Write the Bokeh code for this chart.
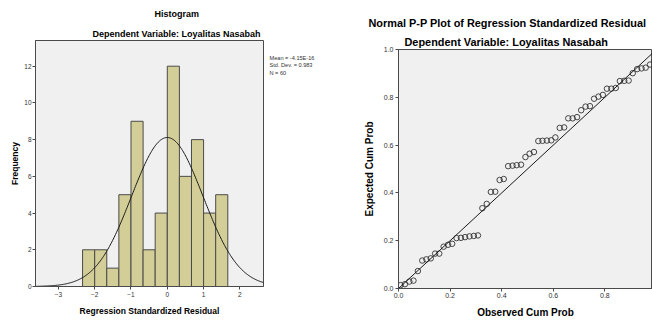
import numpy as np
from bokeh.plotting import figure
from bokeh.layouts import row, column
from bokeh.models import Slope, FixedTicker, PrintfTickFormatter, Title, Range1d
from bokeh.core.properties import value
from bokeh.embed import file_html
from bokeh.resources import INLINE

# ---------------- data ----------------
# Histogram of regression standardized residuals
bin_centers = [-2.167, -1.833, -1.5, -1.167, -0.833, -0.5, -0.167,
               0.167, 0.5, 0.833, 1.167, 1.5]
bin_width = 1 / 3
counts = [2, 2, 1, 5, 9, 2, 4, 12, 6, 8, 4, 5]
res_mean = -4.15e-16
res_std = 0.983
res_n = 60
stats_lines = ["Mean = -4.15E-16", "Std. Dev. = 0.983", "N = 60"]

# Normal P-P plot
observed_cum = [0.008, 0.025, 0.042, 0.058, 0.075, 0.092, 0.108, 0.125, 0.142, 0.158,
                0.175, 0.192, 0.208, 0.225, 0.242, 0.258, 0.275, 0.292, 0.308, 0.325,
                0.342, 0.358, 0.375, 0.392, 0.408, 0.425, 0.442, 0.458, 0.475, 0.492,
                0.508, 0.525, 0.542, 0.558, 0.575, 0.592, 0.608, 0.625, 0.642, 0.658,
                0.675, 0.692, 0.708, 0.725, 0.742, 0.758, 0.775, 0.792, 0.808, 0.825,
                0.842, 0.858, 0.875, 0.892, 0.908, 0.925, 0.942, 0.958, 0.975, 0.992]
expected_cum = [0.014, 0.018, 0.029, 0.033, 0.073, 0.117, 0.122, 0.126, 0.146, 0.146,
                0.175, 0.183, 0.187, 0.211, 0.212, 0.215, 0.218, 0.220, 0.222, 0.336,
                0.354, 0.404, 0.405, 0.454, 0.458, 0.512, 0.514, 0.516, 0.518, 0.550,
                0.564, 0.571, 0.617, 0.618, 0.619, 0.620, 0.632, 0.672, 0.674, 0.712,
                0.712, 0.717, 0.746, 0.761, 0.763, 0.794, 0.803, 0.810, 0.836, 0.836,
                0.839, 0.868, 0.869, 0.870, 0.901, 0.918, 0.921, 0.924, 0.937, 0.950]

hist_x_ticks = [-3, -2, -1, 0, 1, 2]
hist_y_ticks = [0, 2, 4, 6, 8, 10, 12]
pp_ticks = [0.0, 0.2, 0.4, 0.6, 0.8, 1.0]

FONT = "Liberation Sans"
FRAME_BG = "#f0f0f0"
BAR_FILL = "#d3ce97"
DARK = "#4a4a4a"


def style(p, tick_size, label_size):
    p.background_fill_color = FRAME_BG
    p.border_fill_color = "white"
    p.outline_line_color = DARK
    p.outline_line_width = 1
    p.grid.visible = False
    for ax in (p.xaxis[0], p.yaxis[0]):
        ax.axis_line_color = DARK
        ax.major_tick_line_color = DARK
        ax.major_tick_out = 3
        ax.major_tick_in = 0
        ax.minor_tick_line_color = None
        ax.major_label_text_font = FONT
        ax.major_label_text_font_size = tick_size
        ax.major_label_text_color = "#333333"
        ax.axis_label_text_font = FONT
        ax.axis_label_text_font_style = "bold"
        ax.axis_label_text_font_size = label_size
        ax.axis_label_text_color = "black"


def add_titles(p, main, sub, size, main_offset, sub_offset, sub_standoff, main_standoff):
    p.add_layout(Title(text=sub, align="left", offset=sub_offset, standoff=sub_standoff,
                       text_font=FONT, text_font_style="bold", text_font_size=size,
                       text_color="black"), "above")
    p.add_layout(Title(text=main, align="left", offset=main_offset, standoff=main_standoff,
                       text_font=FONT, text_font_style="bold", text_font_size=size,
                       text_color="black"), "above")


# ---------------- histogram ----------------
p1 = figure(width=268, height=320, title=None, toolbar_location=None,
            output_backend="svg", x_range=(-3.63, 2.65), y_range=(0, 13.4),
            min_border_left=35, min_border_right=5, min_border_top=40,
            min_border_bottom=34)
style(p1, "6.5px", "8.5px")
p1.xaxis.axis_label = "Regression Standardized Residual"
p1.yaxis.axis_label = "Frequency"
p1.xaxis.ticker = FixedTicker(ticks=hist_x_ticks)
p1.yaxis.ticker = FixedTicker(ticks=hist_y_ticks)
p1.xaxis.major_label_standoff = 2
p1.yaxis.major_label_standoff = 1
p1.xaxis.axis_label_standoff = 6
p1.yaxis.axis_label_standoff = 1

lefts = [c - bin_width / 2 for c in bin_centers]
rights = [c + bin_width / 2 for c in bin_centers]
p1.quad(left=lefts, right=rights, bottom=0, top=counts,
        fill_color=BAR_FILL, line_color=DARK, line_width=1)

xs = np.linspace(-3.63, 2.65, 300)
ys = res_n * bin_width * np.exp(-0.5 * ((xs - res_mean) / res_std) ** 2) / (res_std * np.sqrt(2 * np.pi))
p1.line(xs, ys, line_color="#1a1a1a", line_width=1)

add_titles(p1, "Histogram", "Dependent Variable: Loyalitas Nasabah", "9px", 119, 57, 4, 11)

# ---------------- statistics box (right of histogram) ----------------
ps = figure(width=62, height=320, title=None, toolbar_location=None,
            output_backend="svg", x_range=Range1d(0, 62), y_range=Range1d(320, 0),
            x_axis_type=None, y_axis_type=None, min_border=0)
ps.outline_line_color = None
ps.grid.visible = False
ps.background_fill_color = "white"
ps.border_fill_color = "white"
ps.text(x=[1, 1, 1], y=[57.3, 64.7, 72], text=stats_lines,
        text_font=value(FONT), text_font_size="5.6px", text_color="#333333",
        text_align="left", text_baseline="middle")

# ---------------- P-P plot ----------------
p2 = figure(width=322, height=320, title=None, toolbar_location=None,
            output_backend="svg", x_range=(0, 0.9845), y_range=(0, 1.0),
            min_border_left=68, min_border_right=0, min_border_top=49,
            min_border_bottom=31)
style(p2, "7px", "10px")
p2.xaxis.axis_label = "Observed Cum Prob"
p2.yaxis.axis_label = "Expected Cum Prob"
p2.xaxis.ticker = FixedTicker(ticks=pp_ticks)
p2.yaxis.ticker = FixedTicker(ticks=pp_ticks)
p2.xaxis.formatter = PrintfTickFormatter(format="%.1f")
p2.yaxis.formatter = PrintfTickFormatter(format="%.1f")
p2.xaxis.major_label_standoff = 1
p2.yaxis.major_label_standoff = 2
p2.xaxis.axis_label_standoff = 6
p2.yaxis.axis_label_standoff = 6

p2.add_layout(Slope(gradient=1, y_intercept=0, line_color="#1a1a1a", line_width=1))
p2.scatter(observed_cum, expected_cum, marker="circle", size=5.5,
           fill_color=None, line_color="#333333", line_width=0.9)

add_titles(p2, "Normal P-P Plot of Regression Standardized Residual",
           "Dependent Variable: Loyalitas Nasabah", "10.9px", -30, 6, 3, 7)

layout = row(column(p1), column(ps), column(p2))
open("out.html", "w").write(file_html(layout, INLINE))
